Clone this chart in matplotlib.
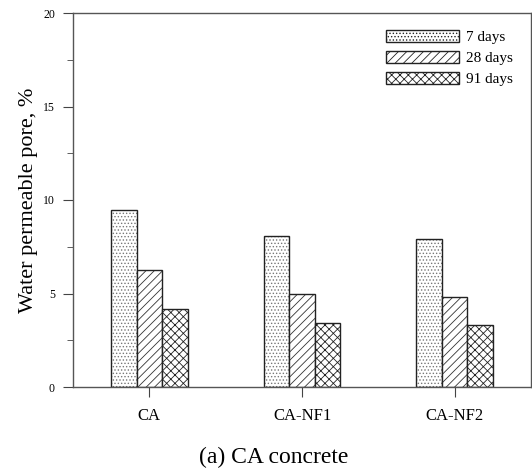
import matplotlib
matplotlib.use("Agg")
import matplotlib.pyplot as plt
import matplotlib.patches as mpatches
import numpy as np

categories = ["CA", "CA-NF1", "CA-NF2"]
series_names = ["7 days", "28 days", "91 days"]
days7 = [9.45, 8.08, 7.90]
days28 = [6.28, 5.00, 4.82]
days91 = [4.15, 3.40, 3.32]
yticks = [0, 5, 10, 15, 20]

plt.rcParams['font.family'] = ['Liberation Serif', 'DejaVu Serif']
plt.rcParams['hatch.linewidth'] = 0.6

fig = plt.figure(figsize=(5.32, 4.72), dpi=100)
ax = fig.add_axes([73/532, 85/472, 458/532, 374/472])

x = np.arange(len(categories))
w = 0.167
hatches = ['.....', '////', 'xxxx']
hcolors = ['#777777', '#333333', '#222222']
handles = []
for i, (vals, name) in enumerate(zip([days7, days28, days91], series_names)):
    pos = x + (i - 1) * w
    ax.bar(pos, vals, w, color='white', edgecolor=hcolors[i], hatch=hatches[i], linewidth=0)
    ax.bar(pos, vals, w, color='none', edgecolor='#222222', linewidth=1.0)
    handles.append(mpatches.Patch(facecolor='white', edgecolor='#222222', hatch=hatches[i], linewidth=1.0, label=name))

ax.set_xlim(-0.5, 2.5)
ax.set_ylim(0, 20)
ax.set_xticks(x)
ax.set_xticklabels(categories, fontsize=12)
ax.set_yticks(yticks)
ax.set_yticklabels([str(t) for t in yticks], fontsize=8.5)
ax.set_yticks(np.arange(0, 20.1, 2.5), minor=True)
ax.tick_params(axis='y', which='major', direction='out', length=7, pad=6, color='#444444')
ax.tick_params(axis='y', which='minor', direction='out', length=4, color='#444444')
ax.tick_params(axis='x', which='major', direction='out', length=7, pad=8, color='#444444')
for s in ax.spines.values():
    s.set_color('#555555')
    s.set_linewidth(1.0)

ax.set_ylabel("Water permeable pore, %", fontsize=16, labelpad=4)

leg = ax.legend(handles=handles, loc='upper left', bbox_to_anchor=(386/532, 1 - 30/472),
                bbox_transform=fig.transFigure, frameon=False, fontsize=11,
                handlelength=4.75, handleheight=0.8, handletextpad=0.5,
                labelspacing=0.45, borderpad=0, borderaxespad=0)

fig.text(274/532, 1 - 457/472, "(a) CA concrete", fontsize=17, ha='center', va='center')

fig.savefig("out.png", dpi=100)
